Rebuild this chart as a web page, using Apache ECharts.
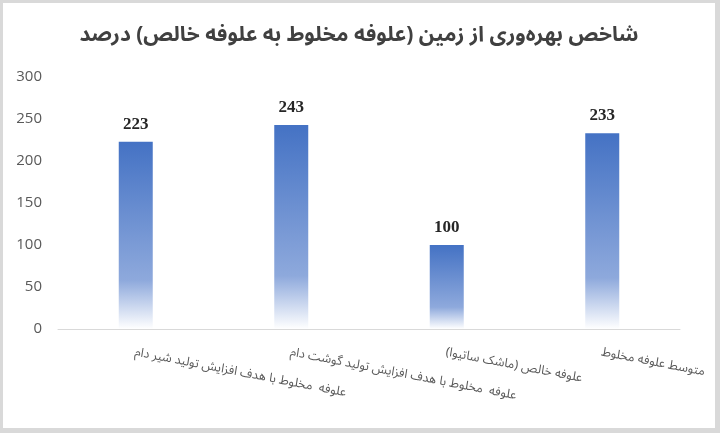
<!DOCTYPE html>
<html>
<head>
<meta charset="utf-8">
<script src="https://cdn.jsdelivr.net/npm/echarts@6/dist/echarts.min.js"></script>
<style>
  html, body { margin: 0; padding: 0; background: #d9d9d9; }
  #main { position: absolute; left: 3px; top: 3px; width: 712px; height: 425px; background: #fff; }
</style>
</head>
<body>
<div id="main"></div>
<script>
var chartDom = document.getElementById('main');
var myChart = echarts.init(chartDom);

var titleText = 'شاخص بهره‌وری از زمین (علوفه مخلوط به علوفه خالص) درصد';
var categories = [
    'علوفه  مخلوط با هدف افزایش تولید شیر دام',
    'علوفه  مخلوط با هدف افزایش تولید گوشت دام',
    'علوفه خالص (ماشک ساتیوا)\u200F',
    'متوسط علوفه مخلوط'
];
var values = [223, 243, 100, 233];
var yTicks = { min: 0, max: 300, interval: 50 };

var option = {
    animation: false,
    title: {
        text: titleText,
        left: 'center',
        top: 19,
        textStyle: {
            fontFamily: '"Noto Sans Arabic", "DejaVu Sans", sans-serif',
            fontSize: 21,
            fontWeight: 'bold',
            color: '#404040'
        }
    },
    grid: {
        left: 55,
        right: 35,
        top: 74,
        bottom: 99,
        containLabel: false,
        outerBoundsMode: 'none'
    },
    xAxis: {
        type: 'category',
        data: categories,
        axisLine: { lineStyle: { color: '#d9d9d9', width: 1 } },
        axisTick: { show: false },
        axisLabel: {
            interval: 0,
            rotate: -11,
            margin: 18,
            verticalAlign: 'top',
            overflow: 'none',
            hideOverlap: false,
            color: '#595959',
            fontSize: 12.5,
            fontFamily: '"Noto Sans Arabic", "DejaVu Sans", sans-serif'
        }
    },
    yAxis: {
        type: 'value',
        min: yTicks.min,
        max: yTicks.max,
        interval: yTicks.interval,
        splitLine: { show: false },
        axisLine: { show: false },
        axisTick: { show: false },
        axisLabel: {
            margin: 16,
            color: '#595959',
            fontSize: 15,
            fontFamily: '"Open Sans", sans-serif'
        }
    },
    series: [{
        type: 'bar',
        data: values,
        barWidth: 34,
        itemStyle: {
            color: new echarts.graphic.LinearGradient(0, 0, 0, 1, [
                { offset: 0, color: '#4472c4' },
                { offset: 0.74, color: '#8ea9dc' },
                { offset: 1, color: '#ffffff' }
            ])
        },
        label: {
            show: true,
            position: 'top',
            distance: 9,
            color: '#262626',
            fontSize: 17,
            fontWeight: 'bold',
            fontFamily: '"Liberation Serif", "Times New Roman", serif'
        }
    }]
};

option && myChart.setOption(option);
</script>
</body>
</html>
